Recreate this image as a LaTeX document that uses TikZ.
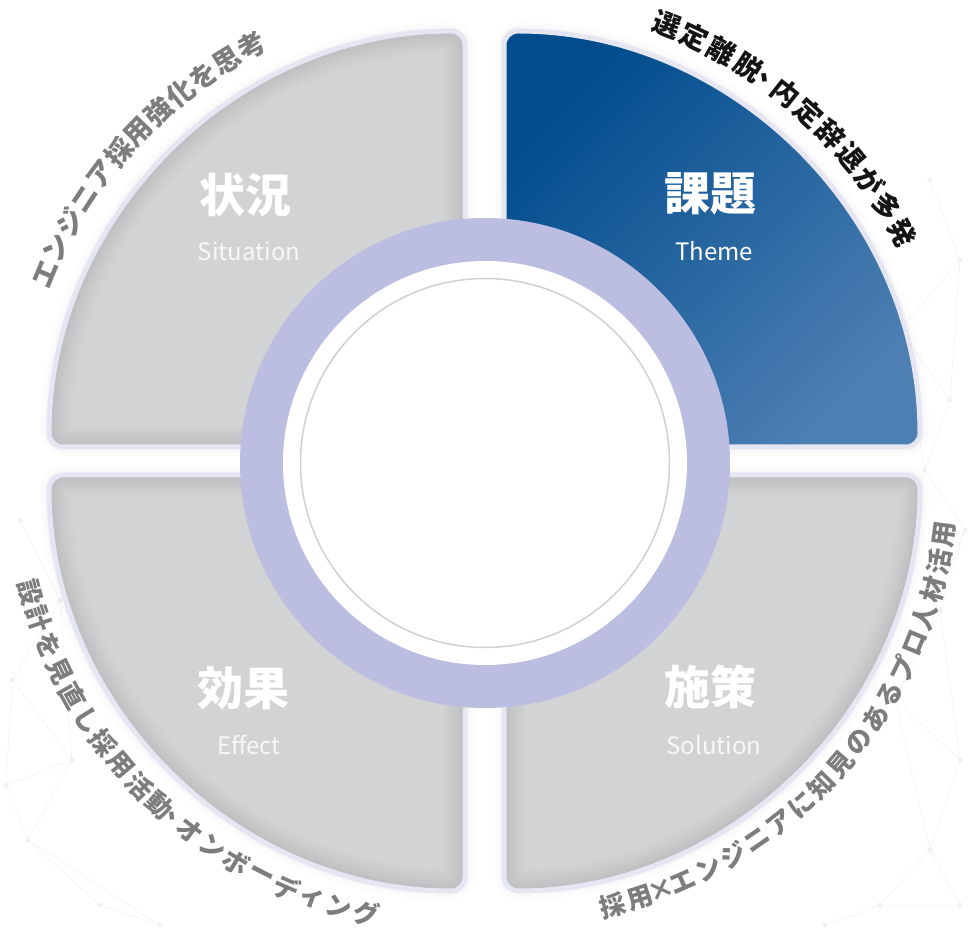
\documentclass[tikz,border=0pt]{standalone}
\usepackage{fontspec}
\newfontfamily\jp{Noto Sans CJK JP}
\usetikzlibrary{calc}
\definecolor{lav}{HTML}{BBBEE0}
\definecolor{qgray}{HTML}{D2D3D5}
\definecolor{qborder}{HTML}{E6E6F3}
\definecolor{blueA}{HTML}{004C8D}
\definecolor{blueB}{HTML}{4D7FB3}
\definecolor{arcgray}{HTML}{7D7D7E}
\definecolor{ringline}{HTML}{D0D0D0}
\definecolor{mesh}{HTML}{F1F1F1}
\tikzset{
  big/.style={font=\jp\bfseries\fontsize{46}{50}\selectfont, text=white, inner sep=0pt},
  eng/.style={font=\jp\fontsize{24}{28}\selectfont, text=white!97!black, inner sep=0pt},
  arcch/.style={inner sep=0pt, anchor=center},
  tlt/.style={arcch, font=\jp\bfseries\fontsize{27.5}{29}\selectfont, text=arcgray},
  trt/.style={arcch, font=\jp\bfseries\fontsize{27.5}{29}\selectfont, text=black!92},
  bt/.style={arcch, font=\jp\bfseries\fontsize{26}{28}\selectfont, text=arcgray},
  qround/.style={rounded corners=14pt},
  meshline/.style={mesh, line width=0.5pt},
  meshdot/.style={fill=mesh},
}
% quarter disc: corner x, corner y, start angle
\newcommand\qpath[3]{(#1,#2) -- ++(#3:416pt) arc[start angle=#3, delta angle=90, radius=416pt] -- cycle}
% cx, cy, radius, first angle, step, rotation offset, style, name prefix, char/advance list
\newcommand\arctext[9]{%
  \xdef\curang{#4}%
  \foreach \ch/\w [count=\k from 0] in {#9}{%
    \pgfmathsetmacro\ang{\curang+(#5)*\w}%
    \node[#7, rotate=\ang #6] (#8\k) at ($(#1,#2)+(\ang:#3pt)$) {\ch};
    \xdef\curang{\ang}%
  }}
\newcommand\grayquad[3]{%
  \foreach \w/\o in {18/0.012,10/0.015}
    \draw[qround, line width=\w pt, black, opacity=\o] \qpath{#1}{#2}{#3};
  \begin{scope}
    \clip[qround] \qpath{#1}{#2}{#3};
    \fill[qgray] (0,0) rectangle (969,929);
    \foreach \w/\o in {44/0.01,36/0.012,28/0.014,20/0.016,12/0.018,6/0.02}
      \draw[qround, line width=\w pt, black, opacity=\o] \qpath{#1}{#2}{#3};
  \end{scope}
  \draw[qround, qborder, line width=5pt] \qpath{#1}{#2}{#3};
}
\begin{document}
\begin{tikzpicture}[x=1pt,y=1pt]
\useasboundingbox (0,0) rectangle (969,929);
\fill[white] (0,0) rectangle (969,929);

% faint background mesh
\begin{scope}[shift={(0,929)}, yscale=-1]
  \foreach \a/\b in {930/180, 960/260, 900/330, 950/400, 925/470, 965/530, 940/610, 895/700, 960/760, 930/850, 880/905, 825/925, 960/905,
                     20/520, 60/600, 12/680, 72/760, 28/840, 100/905, 160/925, 6/785}
    \fill[meshdot] (\a,\b) circle[radius=2.5pt];
  \draw[meshline] (930,180) -- (960,260) -- (900,330) -- (950,400) -- (925,470) -- (965,530) -- (940,610) -- (895,700) -- (960,760) -- (930,850) -- (880,905) -- (825,925);
  \draw[meshline] (960,260) -- (950,400) (900,330) -- (925,470) (940,610) -- (960,760) (895,700) -- (930,850) -- (960,905) (965,530) -- (895,700) (880,905) -- (960,905);
  \draw[meshline] (20,520) -- (60,600) -- (12,680) -- (72,760) -- (28,840) -- (100,905) -- (160,925);
  \draw[meshline] (60,600) -- (72,760) (12,680) -- (6,785) -- (28,840) (6,785) -- (72,760) (28,840) -- (160,925);
\end{scope}

% quadrants
\grayquad{465}{482}{90}
\grayquad{465}{454}{180}
\grayquad{504}{454}{270}
\foreach \w/\o in {18/0.012,10/0.015}
  \draw[qround, line width=\w pt, black, opacity=\o] \qpath{504}{482}{0};
\shade[qround, top color=blueA, bottom color=blueB, shading angle=45] \qpath{504}{482}{0};
\draw[qround, qborder, line width=5pt] \qpath{504}{482}{0};

% labels
\node[big] (sit) at (245,734) {状況};
\node[eng] (sitE) at (249,678) {Situation};
\node[big] (thm) at (710,735) {課題};
\node[eng, text=white] (thmE) at (714,678) {Theme};
\node[big] (eff) at (243,241) {効果};
\node[eng] (effE) at (249,184) {Effect};
\node[big] (sol) at (710,242) {施策};
\node[eng] (solE) at (714,184) {Solution};

% centre rings
\fill[lav] (485,466) circle[radius=245pt];
\fill[white] (485,466) circle[radius=202pt];
\draw[ringline, line width=1.5pt] (485,466) circle[radius=184.5pt];

% texts along the arcs
\arctext{465}{482}{454}{157.6}{-3.6}{-90}{tlt}{tl}{エ/0,ン/1,ジ/1,ニ/1,ア/1,採/1,用/1,強/1,化/1,を/1,思/1,考/1}
\arctext{504}{482}{452}{68.9}{-3.87}{-90}{trt}{tr}{選/0,定/1,離/1,脱/1,、/0.9,内/0.6,定/1,辞/1,退/1,が/1,多/1,発/1}
\arctext{465}{454}{450}{195.1}{3.575}{+90}{bt}{bl}{設/0,計/1,を/1,見/1,直/1,し/1,採/1,用/1,活/1,動/1,、/0.85,オ/0.55,ン/1,ボ/1,ー/1,デ/1,ィ/1,ン/1,グ/1}
\arctext{504}{454}{444}{-75.8}{3.665}{+90}{bt}{br}{採/0,用/1,×/0.8,エ/0.8,ン/1,ジ/1,ニ/1,ア/1,に/1,知/1,見/1,の/1,あ/1,る/1,プ/1,ロ/1,人/1,材/1,活/1,用/1}
\end{tikzpicture}
\end{document}
